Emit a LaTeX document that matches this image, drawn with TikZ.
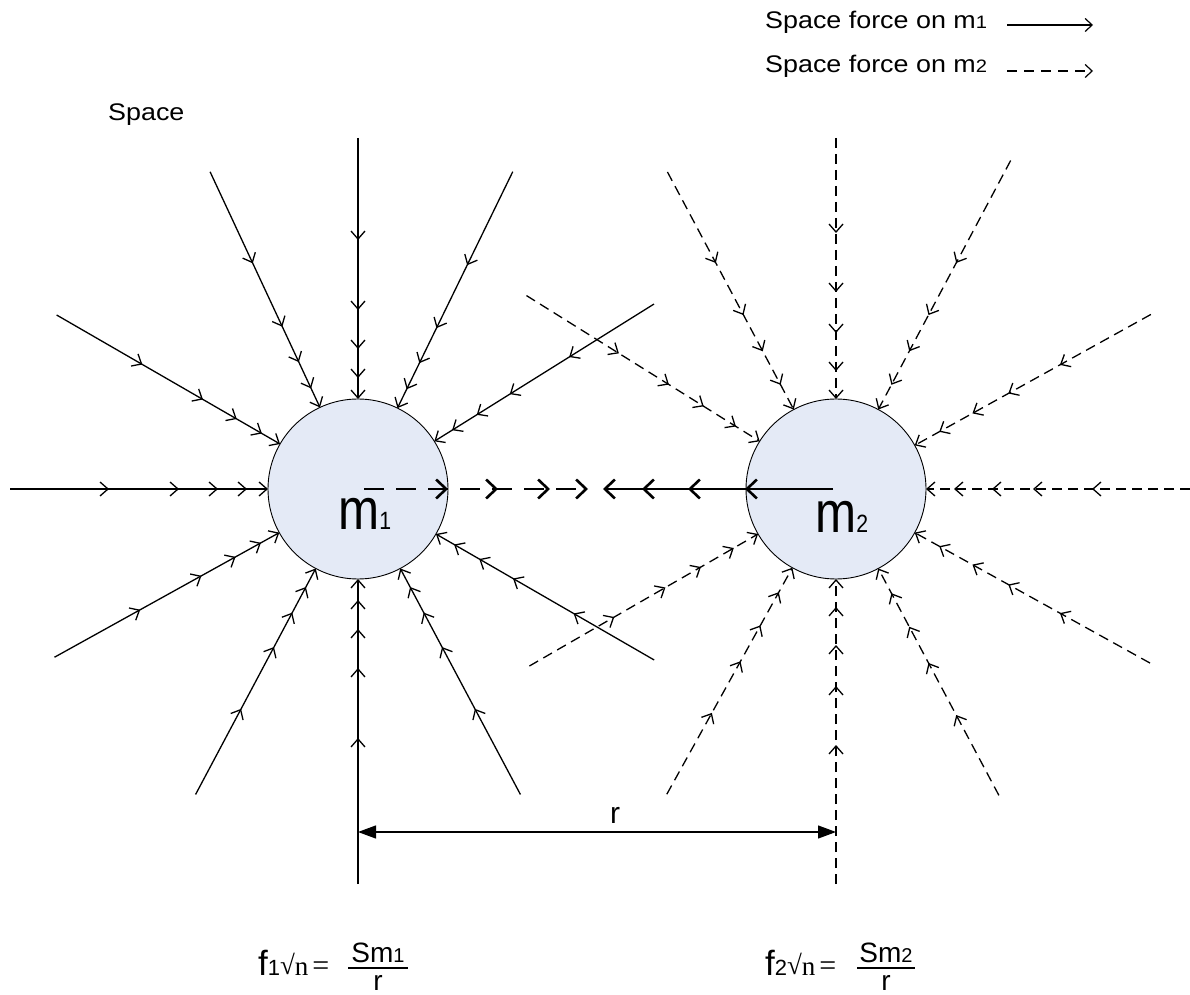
\documentclass[tikz,border=0pt]{standalone}
\usepackage{fontspec}
\setmainfont{Liberation Sans}
\newfontfamily\wsans[FakeStretch=1.12]{Liberation Sans}
\newfontfamily\nsans[FakeStretch=0.85]{Liberation Sans}
\newfontfamily\tserif{Liberation Serif}
\usetikzlibrary{arrows.meta,decorations.markings,calc}
\definecolor{massfill}{RGB}{228,234,246}
\newcommand\fsz[1]{\fontsize{#1pt}{#1pt}\selectfont}
\begin{document}
\begin{tikzpicture}[x=1pt,y=1pt,
  >={Straight Barb[length=8pt,width=14pt]},
  mass/.style={circle,draw,line width=0.9pt,fill=massfill,minimum size=180pt,inner sep=0pt,outer sep=0pt},
  fline/.style={line width=1.3pt,->},
  dline/.style={line width=1.3pt,->,dash pattern=on 10pt off 6pt},
  marksA/.style={postaction={decorate},decoration={markings,
     mark=at position -21pt with {\arrow{>}},
     mark=at position -50pt with {\arrow{>}},
     mark=at position -89pt with {\arrow{>}},
     mark=at position -159pt with {\arrow{>}}}},
  marksB/.style={postaction={decorate},decoration={markings,
     mark=at position -28pt with {\arrow{>}},
     mark=at position -66pt with {\arrow{>}},
     mark=at position -107pt with {\arrow{>}},
     mark=at position -166pt with {\arrow{>}}}},
  bigtip/.tip={Straight Barb[length=10pt,width=19pt]},
  thickline/.style={line width=2.6pt,-bigtip},
  marksC/.style={postaction={decorate},decoration={markings,
     mark=at position -38pt with {\arrow{bigtip}},
     mark=at position -90pt with {\arrow{bigtip}},
     mark=at position -140pt with {\arrow{bigtip}}}},
  marksD/.style={postaction={decorate},decoration={markings,
     mark=at position -39pt with {\arrow{bigtip}},
     mark=at position -85pt with {\arrow{bigtip}},
     mark=at position -142pt with {\arrow{bigtip}}}},
  dimline/.style={line width=1.2pt,{Triangle[length=18pt,width=13pt]}-{Triangle[length=18pt,width=13pt]}},
  legtext/.style={anchor=base west,inner sep=0pt,font=\wsans\fsz{24}},
  legline/.style={line width=1.2pt,-{Straight Barb[length=7pt,width=13pt]}},
  mlabel/.style={anchor=base west,inner sep=0pt},
  formula/.style={anchor=base west,inner sep=0pt},
  fracpart/.style={anchor=base,inner sep=0pt,font=\fsz{28}}
]
\useasboundingbox (0,0) rectangle (1190,994);

% masses
\node[mass] (m1) at (358,505) {};
\node[mass] (m2) at (836,505) {};

% space force lines on m1 (solid)
\foreach \a/\r in {90/351,115/350,150/348,180/348,209/347,242/346,270/395,298/346,330/342,32/349,64/353}{
  \coordinate (s1-\a) at ($(m1.center)+(\a:\r)$);
  \draw[fline,marksA] (s1-\a) -- (m1);
}
% space force lines on m2 (dashed)
\foreach \a/\r in {90/351,118/359,148/365,210/354,241/349,270/395,298/347,331/359,0/354,29/360,62/372}{
  \coordinate (s2-\a) at ($(m2.center)+(\a:\r)$);
  \draw[dline,marksB] (s2-\a) -- (m2);
}

% central lines
\coordinate (c1a) at (364,505);
\coordinate (c1b) at (588,505);
\draw[thickline,dash pattern=on 20pt off 12pt,marksC] (c1a) -- (c1b);
\coordinate (c2a) at (833,505);
\coordinate (c2b) at (603,505);
\draw[thickline,marksD] (c2a) -- (c2b);

% labels in masses
\node[mlabel] (lm1) at (338,464) {\nsans\fsz{58}m\fsz{25}1};
\node[mlabel] (lm2) at (815,461) {\nsans\fsz{58}m\fsz{25}2};

% dimension r
\coordinate (d1) at (358,162);
\coordinate (d2) at (836,162);
\draw[dimline] (d1) -- (d2);
\node[anchor=base,inner sep=0pt,font=\fsz{30}] (rl) at (615,171) {r};

% legend
\node[legtext] (lg1) at (765,965) {Space force on m{\fsz{18}1}};
\node[legtext] (lg2) at (765,921) {Space force on m{\fsz{18}2}};
\coordinate (la1) at (1007,969);
\coordinate (lb1) at (1093,969);
\draw[legline] (la1) -- (lb1);
\coordinate (la2) at (1007,923);
\coordinate (lb2) at (1093,923);
\draw[legline,dash pattern=on 10pt off 7pt] (la2) -- (lb2);

\node[legtext] (sp) at (108,873) {Space};

% formulas
\node[formula] (f1) at (258,19) {\fsz{35}f\fsz{22}1{\tserif\fsz{27}\raisebox{1pt}{√}n\hspace{4pt}\fsz{30}=}};
\node[fracpart] (n1) at (378,32) {Sm{\fsz{20}1}};
\node[fracpart] (q1) at (378,4) {r};
\coordinate (b1a) at (348,26);
\coordinate (b1b) at (408,26);
\draw[line width=1.2pt] (b1a) -- (b1b);

\node[formula] (f2) at (765,19) {\fsz{35}f\fsz{22}2{\tserif\fsz{27}\raisebox{1pt}{√}n\hspace{4pt}\fsz{30}=}};
\node[fracpart] (n2) at (886,32) {Sm{\fsz{20}2}};
\node[fracpart] (q2) at (886,4) {r};
\coordinate (b2a) at (857,26);
\coordinate (b2b) at (915,26);
\draw[line width=1.2pt] (b2a) -- (b2b);
\end{tikzpicture}
\end{document}
